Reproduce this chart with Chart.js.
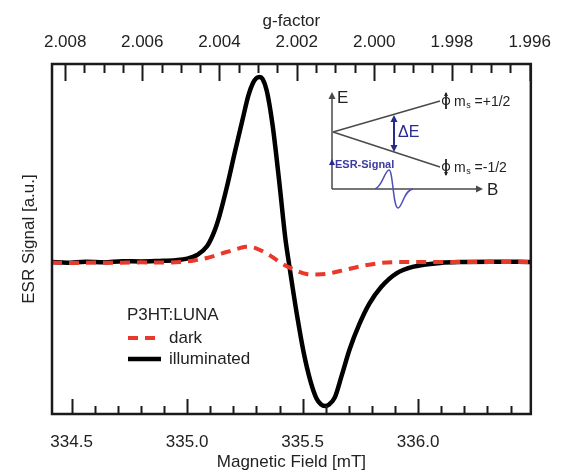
<!DOCTYPE html>
<html>
<head>
<meta charset="utf-8">
<script src="https://cdn.jsdelivr.net/npm/chart.js@4.4.0/dist/chart.umd.min.js"></script>
<style>
  html, body { margin: 0; padding: 0; background: #fff; }
  #chart { display: block; }
</style>
</head>
<body>
<canvas id="chart" width="562" height="475"></canvas>
<script>
// field sweep [mT] and derivative ESR signal [a.u.]
const fieldIlluminated = [334.415, 334.48, 334.56, 334.64, 334.72, 334.80, 334.88, 334.95, 335.00, 335.043,
  335.086, 335.116, 335.140, 335.171, 335.205, 335.240, 335.265, 335.285, 335.300, 335.313,
  335.327, 335.345, 335.370, 335.400, 335.425, 335.440, 335.477, 335.505, 335.533, 335.560,
  335.580, 335.597, 335.615, 335.640, 335.670, 335.704, 335.746, 335.789, 335.840, 335.908,
  335.981, 336.096, 336.20, 336.32, 336.488];
const signalIlluminated = [0.000, -0.004, 0.002, -0.002, 0.004, 0.003, 0.006, 0.010, 0.018, 0.038,
  0.085, 0.160, 0.250, 0.400, 0.585, 0.770, 0.900, 0.968, 0.994, 1.000,
  0.988, 0.925, 0.740, 0.420, 0.130, 0.000, -0.297, -0.492, -0.640, -0.738,
  -0.770, -0.778, -0.770, -0.730, -0.610, -0.470, -0.335, -0.225, -0.135, -0.060,
  -0.025, -0.005, 0.000, 0.002, 0.000];

const fieldDark = [334.415, 334.50, 334.60, 334.70, 334.80, 334.90, 334.971, 335.03, 335.086, 335.13,
  335.171, 335.22, 335.256, 335.29, 335.32, 335.363, 335.406, 335.457, 335.516, 335.56,
  335.601, 335.661, 335.755, 335.840, 335.95, 336.10, 336.25, 336.488];
const signalDark = [-0.003, -0.005, -0.003, -0.004, -0.002, -0.003, 0.000, 0.008, 0.022, 0.038,
  0.054, 0.072, 0.083, 0.078, 0.062, 0.032, -0.005, -0.038, -0.065, -0.068,
  -0.065, -0.049, -0.022, -0.005, 0.000, 0.000, 0.000, 0.000];

// axis ranges and ticks
const fieldMin = 334.415;
const fieldMax = 336.488;
const signalMin = -0.8216;
const signalMax = 1.0703;
const fieldTicks = [334.5, 334.6, 334.7, 334.8, 334.9, 335.0, 335.1, 335.2, 335.3, 335.4,
  335.5, 335.6, 335.7, 335.8, 335.9, 336.0, 336.1, 336.2, 336.3, 336.4];
const gTicks = [2.008, 2.0075, 2.007, 2.0065, 2.006, 2.0055, 2.005, 2.0045, 2.004, 2.0035,
  2.003, 2.0025, 2.002, 2.0015, 2.001, 2.0005, 2.000, 1.9995, 1.999, 1.9985,
  1.998, 1.9975, 1.997, 1.9965, 1.996];
// g * B is constant at fixed microwave frequency
const gTimesField = 671.62;

const FONT = "'Liberation Sans', Arial, sans-serif";
const INK = '#1a1a1a';

Chart.defaults.font.family = FONT;
Chart.defaults.color = '#222';

function toPoints(xs, ys) {
  return xs.map((x, i) => ({ x: x, y: ys[i] }));
}

// inward ticks and the box around the plot
const frameTicks = {
  id: 'frameTicks',
  afterDatasetsDraw(chart) {
    const { ctx, chartArea: a, scales } = chart;
    ctx.save();
    ctx.strokeStyle = INK;
    ctx.lineWidth = 2;
    ctx.beginPath();
    scales.x.ticks.forEach(t => {
      const px = Math.round(scales.x.getPixelForValue(t.value)) + 0.5;
      const len = t.long ? 15 : 8;
      ctx.moveTo(px, a.bottom);
      ctx.lineTo(px, a.bottom - len);
    });
    scales.x2.ticks.forEach(t => {
      const px = Math.round(scales.x2.getPixelForValue(t.value)) + 0.5;
      const len = t.long ? 17 : 9;
      ctx.moveTo(px, a.top);
      ctx.lineTo(px, a.top + len);
    });
    ctx.stroke();
    ctx.lineWidth = 2.5;
    ctx.strokeRect(a.left, a.top, a.width, a.height);
    ctx.restore();
  }
};

// legend block in the lower left of the plot
const legendBox = {
  id: 'legendBox',
  afterDraw(chart) {
    const { ctx, chartArea: a } = chart;
    const x0 = a.left + 75;
    const y0 = a.top + 251;
    ctx.save();
    ctx.fillStyle = '#222';
    ctx.font = '17px ' + FONT;
    ctx.textBaseline = 'middle';
    ctx.textAlign = 'left';
    ctx.fillText('P3HT:LUNA', x0, y0);
    chart.data.datasets.forEach((ds, i) => {
      const y = y0 + 23 + i * 21;
      ctx.beginPath();
      ctx.strokeStyle = ds.borderColor;
      ctx.lineWidth = ds.borderWidth;
      ctx.setLineDash(ds.borderDash || []);
      ctx.moveTo(x0 + 1, y);
      ctx.lineTo(x0 + 34, y);
      ctx.stroke();
      ctx.setLineDash([]);
      ctx.fillText(ds.label, x0 + 42, y);
    });
    ctx.restore();
  }
};

function arrowHead(ctx, x, y, dir, size) {
  // dir: 'up', 'down', 'right'
  ctx.beginPath();
  if (dir === 'up') {
    ctx.moveTo(x, y); ctx.lineTo(x - size * 0.5, y + size); ctx.lineTo(x + size * 0.5, y + size);
  } else if (dir === 'down') {
    ctx.moveTo(x, y); ctx.lineTo(x - size * 0.5, y - size); ctx.lineTo(x + size * 0.5, y - size);
  } else {
    ctx.moveTo(x, y); ctx.lineTo(x - size, y - size * 0.5); ctx.lineTo(x - size, y + size * 0.5);
  }
  ctx.closePath();
  ctx.fill();
}

function spinLabel(ctx, x, y, sign) {
  ctx.fillText('m', x, y);
  const w = ctx.measureText('m').width;
  ctx.save();
  ctx.font = '9px ' + FONT;
  ctx.fillText('s', x + w + 0.5, y + 4);
  ctx.restore();
  ctx.fillText(' =' + sign + '1/2', x + w + 5, y);
}

// Zeeman splitting sketch in the upper right
const zeemanInset = {
  id: 'zeemanInset',
  afterDraw(chart) {
    const { ctx, chartArea: a } = chart;
    const ox = a.left + 280;
    const oy = a.top + 125;
    const grey = '#4a4a4a';
    const navy = '#2a2a8c';
    ctx.save();
    ctx.lineWidth = 1.5;
    ctx.strokeStyle = grey;
    ctx.fillStyle = grey;

    // E and B axes
    ctx.beginPath();
    ctx.moveTo(ox, oy);
    ctx.lineTo(ox, oy - 92);
    ctx.moveTo(ox, oy);
    ctx.lineTo(ox + 145, oy);
    ctx.stroke();
    arrowHead(ctx, ox, oy - 97, 'up', 7);
    arrowHead(ctx, ox + 151, oy, 'right', 7);

    // split levels
    ctx.beginPath();
    ctx.moveTo(ox + 1, oy - 57);
    ctx.lineTo(ox + 108, oy - 88);
    ctx.moveTo(ox + 1, oy - 57);
    ctx.lineTo(ox + 108, oy - 22);
    ctx.stroke();

    ctx.fillStyle = '#222';
    ctx.font = '17px ' + FONT;
    ctx.textBaseline = 'middle';
    ctx.fillText('E', ox + 5, oy - 91);
    ctx.fillText('B', ox + 155, oy + 1);

    // spin symbols and labels
    [[oy - 88, '+'], [oy - 22, '-']].forEach(([y, sign]) => {
      ctx.strokeStyle = '#222';
      ctx.lineWidth = 1.2;
      ctx.beginPath();
      ctx.arc(ox + 114, y, 3.5, 0, Math.PI * 2);
      ctx.stroke();
      ctx.lineWidth = 1.8;
      ctx.beginPath();
      ctx.moveTo(ox + 114, y - 8);
      ctx.lineTo(ox + 114, y + 8);
      ctx.stroke();
      ctx.fillStyle = '#222';
      arrowHead(ctx, ox + 114, sign === '+' ? y - 9 : y + 9, sign === '+' ? 'up' : 'down', 4);
      ctx.font = '14px ' + FONT;
      spinLabel(ctx, ox + 122, y + 1, sign);
    });

    // energy gap arrow
    ctx.strokeStyle = navy;
    ctx.fillStyle = navy;
    ctx.lineWidth = 2;
    ctx.beginPath();
    ctx.moveTo(ox + 62, oy - 68);
    ctx.lineTo(ox + 62, oy - 43);
    ctx.stroke();
    arrowHead(ctx, ox + 62, oy - 74, 'up', 7);
    arrowHead(ctx, ox + 62, oy - 37, 'down', 7);
    ctx.font = '16px ' + FONT;
    ctx.fillText('\u0394E', ox + 66, oy - 56);

    // signal axis marker and label
    ctx.fillStyle = navy;
    arrowHead(ctx, ox, oy - 30, 'up', 6);
    ctx.fillStyle = '#3b3ba0';
    ctx.font = 'bold 11px ' + FONT;
    ctx.fillText('ESR-Signal', ox + 3, oy - 24);

    // first-derivative line shape
    ctx.strokeStyle = '#5050b8';
    ctx.lineWidth = 1.5;
    ctx.beginPath();
    ctx.moveTo(ox + 43, oy);
    ctx.bezierCurveTo(ox + 50, oy - 2, ox + 53, oy - 19, ox + 57, oy - 19);
    ctx.bezierCurveTo(ox + 61, oy - 19, ox + 61, oy + 19, ox + 66, oy + 19);
    ctx.bezierCurveTo(ox + 70, oy + 19, ox + 72, oy + 1, ox + 81, oy);
    ctx.stroke();
    ctx.restore();
  }
};

const ctx = document.getElementById('chart').getContext('2d');

new Chart(ctx, {
  type: 'line',
  data: {
    datasets: [{
      label: 'dark',
      data: toPoints(fieldDark, signalDark),
      borderColor: '#e8392a',
      borderWidth: 4,
      borderDash: [10, 7],
      pointRadius: 0,
      fill: false,
      cubicInterpolationMode: 'monotone'
    }, {
      label: 'illuminated',
      data: toPoints(fieldIlluminated, signalIlluminated),
      borderColor: '#000',
      borderWidth: 4.5,
      pointRadius: 0,
      fill: false,
      cubicInterpolationMode: 'monotone'
    }]
  },
  options: {
    responsive: false,
    animation: false,
    layout: { padding: { left: 0, right: 23, top: 0, bottom: 0 } },
    plugins: {
      legend: { display: false },
      tooltip: { enabled: false }
    },
    scales: {
      x: {
        type: 'linear',
        position: 'bottom',
        min: fieldMin,
        max: fieldMax,
        afterBuildTicks: scale => {
          scale.ticks = fieldTicks.map(v => ({ value: v, long: Math.abs(v * 2 - Math.round(v * 2)) < 1e-6 }));
        },
        afterFit: scale => { scale.height = 61; },
        grid: { display: false, drawTicks: false },
        border: { display: false },
        ticks: {
          autoSkip: false,
          maxRotation: 0,
          minRotation: 0,
          padding: 18,
          color: '#222',
          font: { size: 17 },
          callback: function (value, i, ticks) {
            return ticks[i].long ? value.toFixed(1) : '';
          }
        },
        title: {
          display: true,
          text: 'Magnetic Field [mT]',
          color: '#222',
          font: { size: 17 },
          padding: { top: 0, bottom: 2 }
        }
      },
      x2: {
        type: 'linear',
        position: 'top',
        min: fieldMin,
        max: fieldMax,
        afterBuildTicks: scale => {
          scale.ticks = gTicks.map(g => ({
            value: gTimesField / g,
            g: g,
            long: Math.abs(g * 500 - Math.round(g * 500)) < 1e-6
          }));
        },
        afterFit: scale => { scale.height = 64; },
        grid: { display: false, drawTicks: false },
        border: { display: false },
        ticks: {
          autoSkip: false,
          maxRotation: 0,
          minRotation: 0,
          padding: 11,
          color: '#222',
          font: { size: 17 },
          callback: function (value, i, ticks) {
            return ticks[i].long ? ticks[i].g.toFixed(3) : '';
          }
        },
        title: {
          display: true,
          text: 'g-factor',
          color: '#222',
          font: { size: 17 },
          padding: { top: 11, bottom: 0 }
        }
      },
      y: {
        type: 'linear',
        min: signalMin,
        max: signalMax,
        afterFit: scale => { scale.width = 52; },
        grid: { display: false, drawTicks: false },
        border: { display: false },
        ticks: { display: false },
        title: {
          display: true,
          text: 'ESR Signal [a.u.]',
          color: '#222',
          font: { size: 17 },
          padding: { top: 19, bottom: 0 }
        }
      }
    }
  },
  plugins: [frameTicks, legendBox, zeemanInset]
});
</script>
</body>
</html>
